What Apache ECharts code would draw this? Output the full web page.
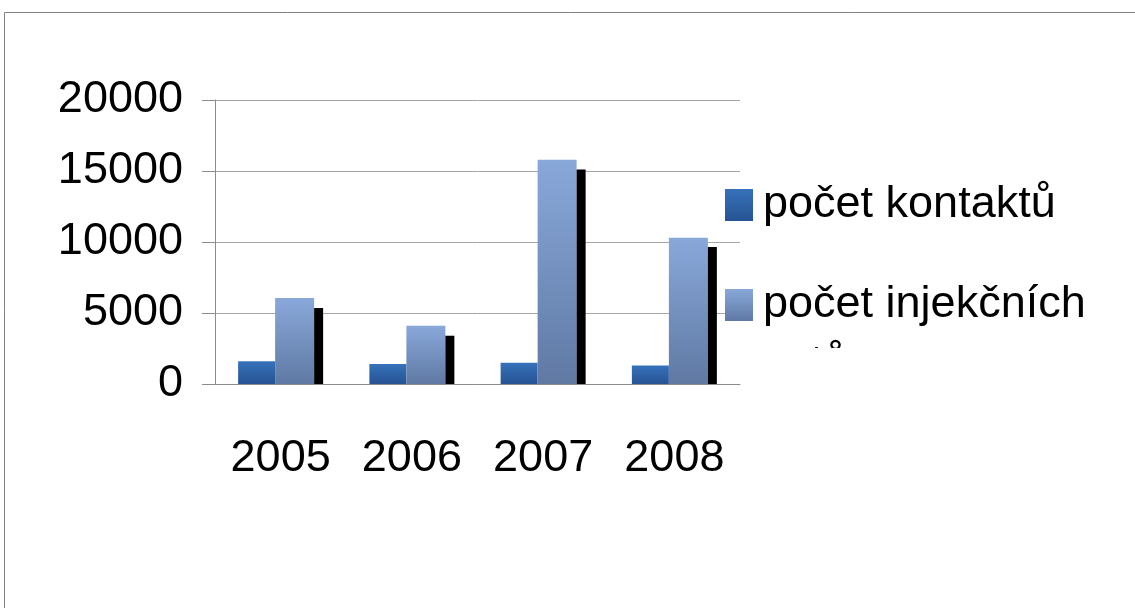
<!DOCTYPE html>
<html>
<head>
<meta charset="utf-8">
<script src="https://cdn.jsdelivr.net/npm/echarts@6/dist/echarts.min.js"></script>
<style>
  html, body { margin: 0; padding: 0; background: #fff; }
  #chart { width: 1135px; height: 608px; }
</style>
</head>
<body>
<div id="chart"></div>
<script>
// data
var years = ['2005', '2006', '2007', '2008']
var kontakty = [1600, 1400, 1500, 1300]
var injekcni = [6050, 4100, 15800, 10300]
var treti = [5350, 3400, 15100, 9650]
var yTicks = [0, 5000, 10000, 15000, 20000]

var font = '"Liberation Sans", Arial, sans-serif'

function grad(top, bottom) {
  return new echarts.graphic.LinearGradient(0, 0, 0, 1, [
    { offset: 0, color: top },
    { offset: 1, color: bottom }
  ])
}

var chart = echarts.init(document.getElementById('chart'))
chart.setOption({
  animation: false,
  grid: {
    left: 215,
    right: 395,
    top: 100,
    bottom: 224
  },
  legend: {
    data: ['počet kontaktů', 'počet injekčních'],
    orient: 'vertical',
    left: 725,
    top: 180,
    padding: 0,
    itemWidth: 28,
    itemHeight: 32,
    itemGap: 50,
    icon: 'rect',
    textStyle: {
      fontFamily: font,
      fontSize: 45,
      lineHeight: 50,
      color: '#000',
      padding: [0, 0, 0, 5]
    }
  },
  xAxis: {
    type: 'category',
    data: years,
    axisLine: { lineStyle: { color: '#8c8c8c', width: 1 } },
    axisTick: { length: 16, lineStyle: { color: '#8c8c8c' } },
    axisLabel: {
      fontFamily: font,
      fontSize: 45,
      color: '#000',
      margin: 52
    }
  },
  yAxis: {
    type: 'value',
    min: yTicks[0],
    max: yTicks[yTicks.length - 1],
    interval: 5000,
    axisLine: { show: true, lineStyle: { color: '#8c8c8c', width: 1 } },
    axisTick: { show: true, length: 13, lineStyle: { color: '#8c8c8c' } },
    splitLine: { lineStyle: { color: '#a6a6a6', width: 1 } },
    axisLabel: {
      fontFamily: font,
      fontSize: 45,
      color: '#000',
      margin: 32,
      formatter: function (v) { return String(v) }
    }
  },
  series: [
    {
      name: 'počet kontaktů',
      type: 'bar',
      data: kontakty,
      barWidth: 37,
      barGap: '0%',
      itemStyle: { color: grad('#3672ba', '#265393') }
    },
    {
      name: 'počet injekčních',
      type: 'bar',
      data: injekcni,
      barWidth: 39,
      itemStyle: { color: grad('#89a8da', '#5f79a3') }
    },
    {
      name: 'setů',
      type: 'bar',
      data: treti,
      barWidth: 9,
      itemStyle: { color: '#000' }
    }
  ],
  graphic: [
    {
      type: 'rect',
      shape: { x: 4.5, y: 12.5, width: 1300, height: 800 },
      style: { fill: 'none', stroke: '#808080', lineWidth: 1 },
      silent: true
    },
    // wrapped, clipped second line of the legend label
    {
      type: 'text',
      left: 763,
      top: 341,
      z: 10,
      style: { text: 'setů', font: '45px ' + font, fill: '#000' }
    },
    {
      type: 'rect',
      shape: { x: 755, y: 348, width: 200, height: 80 },
      style: { fill: '#fff' },
      z: 11,
      silent: true
    }
  ]
})
</script>
</body>
</html>
